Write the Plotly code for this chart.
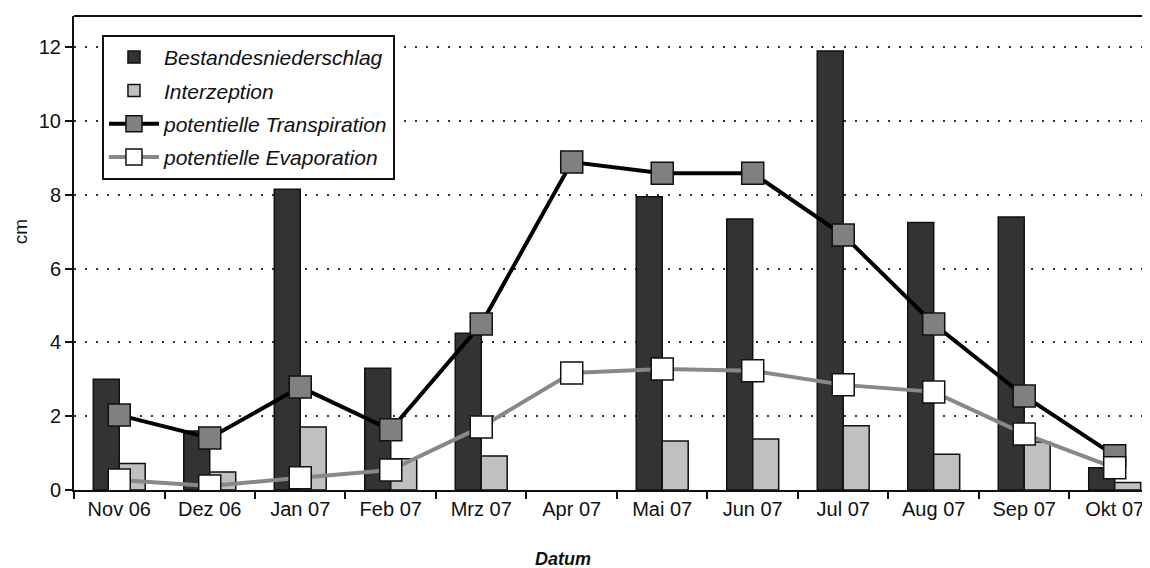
import plotly.graph_objects as go

months = ["Nov 06", "Dez 06", "Jan 07", "Feb 07", "Mrz 07", "Apr 07",
          "Mai 07", "Jun 07", "Jul 07", "Aug 07", "Sep 07", "Okt 07"]
niederschlag = [3.0, 1.6, 8.15, 3.3, 4.25, None, 7.95, 7.35, 11.9, 7.25, 7.4, 0.6]
interzeption = [0.72, 0.49, 1.71, 0.85, 0.92, None, 1.33, 1.38, 1.74, 0.97, 1.3, 0.2]
transpiration = [2.03, 1.41, 2.79, 1.63, 4.5, 8.89, 8.59, 8.59, 6.91, 4.5, 2.55, 0.93]
evaporation = [0.27, 0.11, 0.33, 0.54, 1.71, 3.17, 3.28, 3.23, 2.85, 2.66, 1.52, 0.6]

FONT = "Liberation Sans, Arial, sans-serif"

fig = go.Figure()
fig.add_trace(go.Bar(x=months, y=niederschlag, name="Bestandesniederschlag",
                     legendgroup="a",
                     marker=dict(color="#333333", line=dict(color="#111111", width=1.5))))
fig.add_trace(go.Bar(x=months, y=interzeption, name="Interzeption",
                     legendgroup="b",
                     marker=dict(color="#c0c0c0", line=dict(color="#111111", width=1.5))))
fig.add_trace(go.Scatter(x=months, y=transpiration, name="potentielle Transpiration",
                         mode="lines+markers", legendgroup="c",
                         line=dict(color="#000000", width=4),
                         marker=dict(symbol="square", size=22, color="#808080",
                                     line=dict(color="#111111", width=1.5))))
fig.add_trace(go.Scatter(x=months, y=evaporation, name="potentielle Evaporation",
                         mode="lines+markers", legendgroup="d",
                         line=dict(color="#888888", width=4),
                         marker=dict(symbol="square", size=22, color="#ffffff",
                                     line=dict(color="#111111", width=1.5))))

fig.update_layout(
    width=1142, height=560,
    margin=dict(l=66, r=0, t=8, b=78),
    paper_bgcolor="white", plot_bgcolor="white",
    barmode="group", bargap=0.426, bargroupgap=0,
    font=dict(family=FONT, size=20, color="#111111"),
    showlegend=True,
    legend=dict(x=0.026, y=0.96, xanchor="left", yanchor="top",
                bgcolor="white", bordercolor="#111111", borderwidth=2,
                font=dict(family=FONT, size=21, style="italic", color="#111111"),
                tracegroupgap=3, itemwidth=50, traceorder="grouped"),
    xaxis=dict(range=[-0.5, 11.39], showgrid=False, showline=True,
               linecolor="#111111", linewidth=2, ticks="outside",
               tickson="boundaries", ticklen=7, tickwidth=1.5,
               tickcolor="#111111", tickfont=dict(size=20)),
    yaxis=dict(range=[0, 12.85], tickvals=[0, 2, 4, 6, 8, 10, 12],
               showgrid=True, gridcolor="#333333", gridwidth=1.5,
               griddash="2px,9px", zeroline=False, showline=True,
               linecolor="#111111", linewidth=2, ticks="outside",
               ticklen=7, tickwidth=1.5, tickcolor="#111111",
               tickfont=dict(size=20)),
    shapes=[dict(type="line", xref="paper", yref="paper", x0=0, x1=1, y0=1, y1=1,
                 line=dict(color="#111111", width=2))],
    annotations=[
        dict(text="cm", xref="paper", yref="paper", x=-0.05, y=0.544,
             textangle=-90, showarrow=False, xanchor="center", yanchor="middle",
             font=dict(family=FONT, size=19, color="#111111")),
        dict(text="<b><i>Datum</i></b>", xref="paper", yref="paper", x=0.4545, y=-0.145,
             showarrow=False, xanchor="center", yanchor="middle",
             font=dict(family=FONT, size=18, color="#111111")),
    ],
)

fig.write_html("out.html")
